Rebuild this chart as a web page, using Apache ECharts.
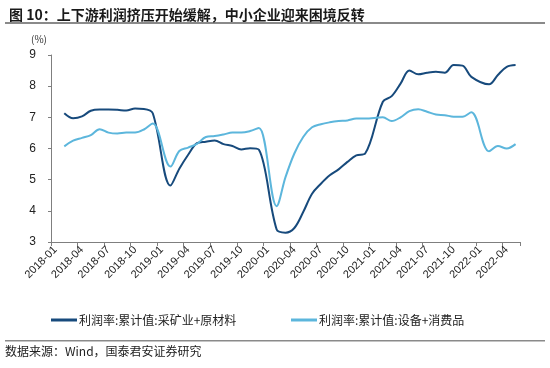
<!DOCTYPE html>
<html>
<head>
<meta charset="utf-8">
<script src="https://cdn.jsdelivr.net/npm/echarts@6/dist/echarts.min.js"></script>
<style>
html,body{margin:0;padding:0;background:#fff;}
#chart{width:550px;height:368px;}
</style>
</head>
<body>
<div id="chart"></div>
<script>
const categories = [
  '2018-01','2018-02','2018-03','2018-04','2018-05','2018-06','2018-07','2018-08','2018-09','2018-10','2018-11','2018-12',
  '2019-01','2019-02','2019-03','2019-04','2019-05','2019-06','2019-07','2019-08','2019-09','2019-10','2019-11','2019-12',
  '2020-01','2020-02','2020-03','2020-04','2020-05','2020-06','2020-07','2020-08','2020-09','2020-10','2020-11','2020-12',
  '2021-01','2021-02','2021-03','2021-04','2021-05','2021-06','2021-07','2021-08','2021-09','2021-10','2021-11','2021-12',
  '2022-01','2022-02','2022-03','2022-04','2022-05'
];
const seriesNames = ['利润率:累计值:采矿业+原材料', '利润率:累计值:设备+消费品'];
const upstream = [
  null, 7.13, 6.97, 7.03, 7.21, 7.25, 7.25, 7.24, 7.22, 7.28, 7.27, 7.13,
  null, 4.81, 5.35, 5.80, 6.17, 6.22, 6.26, 6.14, 6.08, 5.97, 6.01, 5.96,
  null, 3.40, 3.30, 3.45, 3.96, 4.55, 4.87, 5.14, 5.33, 5.57, 5.78, 5.84,
  null, 7.50, 7.68, 8.08, 8.50, 8.38, 8.43, 8.46, 8.43, 8.68, 8.66, 8.30,
  null, 8.06, 8.36, 8.62, 8.68
];
const downstream = [
  null, 6.07, 6.25, 6.34, 6.43, 6.62, 6.51, 6.48, 6.51, 6.51, 6.61, 6.80,
  null, 5.42, 5.92, 6.03, 6.15, 6.37, 6.40, 6.45, 6.51, 6.51, 6.56, 6.66,
  null, 4.15, 5.08, 5.84, 6.37, 6.68, 6.78, 6.84, 6.88, 6.90, 6.96, 6.96,
  null, 7.00, 6.88, 7.00, 7.20, 7.26, 7.18, 7.09, 7.07, 7.02, 7.02, 7.16,
  null, 5.91, 6.08, 6.00, 6.14
];
const titleText = '图 10：上下游利润挤压开始缓解，中小企业迎来困境反转';
const sourceText = '数据来源：Wind，国泰君安证券研究';
const unitText = '(%)';

const FONT = "'Liberation Sans', 'Noto Sans CJK SC', sans-serif";
const CJK = "'Noto Sans CJK SC', sans-serif";
const darkColor = '#174a7c';
const lightColor = '#5cb6dc';

const chart = echarts.init(document.getElementById('chart'), null, {renderer: 'canvas'});
chart.setOption({
  animation: false,
  backgroundColor: '#fff',
  title: {
    text: titleText,
    left: 4, top: 3,
    textStyle: {fontFamily: CJK, fontSize: 14, fontWeight: 'bold', color: '#1a1a1a'}
  },
  graphic: [
    {type: 'rect', shape: {x: 5, y: 22, width: 540, height: 2}, style: {fill: '#8a8a8a'}},
    {type: 'rect', shape: {x: 5, y: 340, width: 540, height: 1.5}, style: {fill: '#8a8a8a'}},
    {type: 'text', left: 5, top: 345, style: {text: sourceText, font: "12px 'Noto Sans CJK SC', serif", fill: '#222'}},
    {type: 'text', left: 31, top: 34, style: {text: unitText, font: "10px 'Noto Sans CJK SC', sans-serif", fill: '#333'}}
  ],
  legend: [
    {data: [seriesNames[0]], left: 46, top: 309, icon: 'rect', itemWidth: 26, itemHeight: 3, itemGap: 4,
     textStyle: {fontFamily: CJK, fontSize: 12, color: '#222', padding: [0,0,0,-3]}},
    {data: [seriesNames[1]], left: 286, top: 309, icon: 'rect', itemWidth: 26, itemHeight: 3, itemGap: 4,
     textStyle: {fontFamily: CJK, fontSize: 12, color: '#222', padding: [0,0,0,-3]}}
  ],
  grid: {left: 51, right: 30, top: 55, bottom: 126, containLabel: false},
  xAxis: {
    type: 'category',
    data: categories,
    boundaryGap: true,
    axisLine: {show: true, lineStyle: {color: '#7f7f7f', width: 1}},
    axisTick: {show: true, interval: 2, length: 4, lineStyle: {color: '#7f7f7f'}},
    axisLabel: {interval: 2, rotate: 45, fontFamily: FONT, fontSize: 11, color: '#222', margin: 6},
    splitLine: {show: false}
  },
  yAxis: {
    type: 'value',
    min: 3, max: 9, interval: 1,
    axisLine: {show: true, lineStyle: {color: '#7f7f7f', width: 1}},
    axisTick: {show: true, length: 3, lineStyle: {color: '#7f7f7f'}},
    axisLabel: {fontFamily: FONT, fontSize: 12, color: '#222', margin: 15},
    splitLine: {show: false}
  },
  series: [
    {name: seriesNames[0], type: 'line', data: upstream, connectNulls: true, smooth: 0.35,
     showSymbol: false, symbol: 'none', lineStyle: {color: darkColor, width: 2}, itemStyle: {color: darkColor}},
    {name: seriesNames[1], type: 'line', data: downstream, connectNulls: true, smooth: 0.35,
     showSymbol: false, symbol: 'none', lineStyle: {color: lightColor, width: 2}, itemStyle: {color: lightColor}}
  ]
});
</script>
</body>
</html>
